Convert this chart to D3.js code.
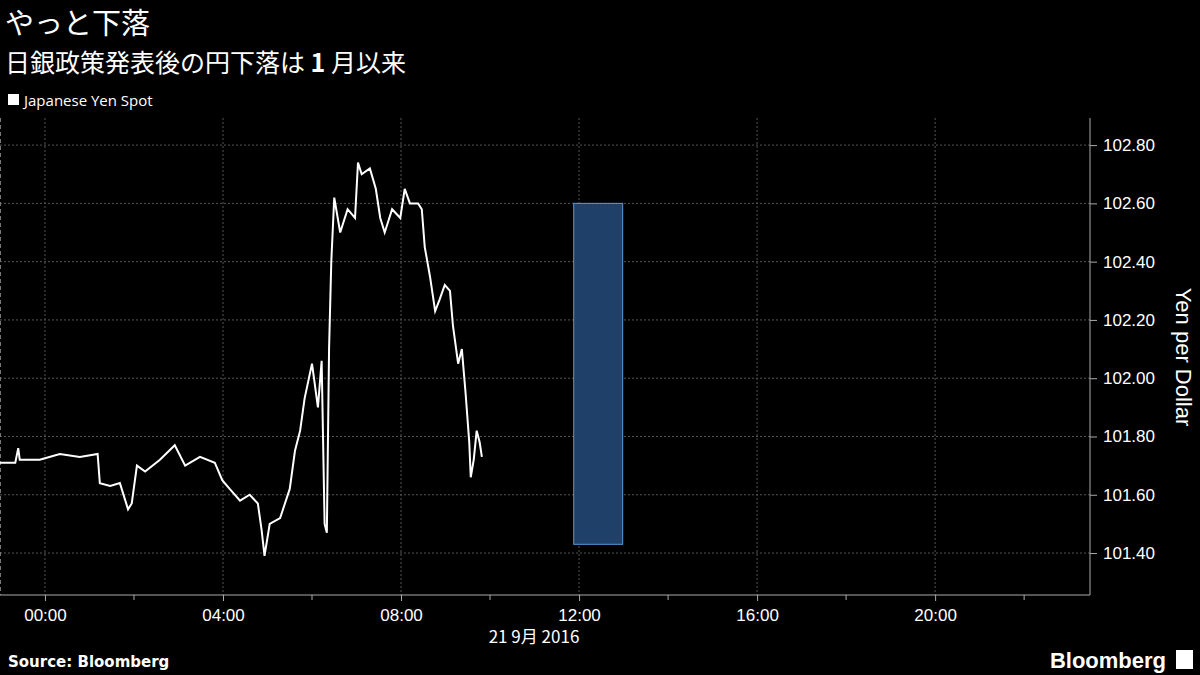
<!doctype html>
<html lang="ja">
<head>
<meta charset="utf-8">
<style>
body { margin:0; background:#000; }
svg { display:block; font-family:"Noto Sans CJK JP","Liberation Sans",Arial,sans-serif; }
</style>
</head>
<body>
<script src="https://cdn.jsdelivr.net/npm/d3@7"></script>
<svg id="chart" width="1200" height="675"></svg>
<script>
// minutes from 00:00, 21 Sep 2016 (negative = previous evening)
var minutes = [-61,-40,-36,-34,-7,20,47,71,74,88,101,112,117,124,135,155,175,189,209,229,239,249,263,276,287,292,296,303,317,330,337,344,350,360,368,373,377,380,383,386,390,398,408,418,422,427,438,446,452,458,468,479,485,492,503,508,512,519,526,532,539,546,550,557,562,567,572,574,578,582,586,589];
var yen = [101.71,101.71,101.76,101.72,101.72,101.74,101.73,101.74,101.64,101.63,101.64,101.55,101.57,101.70,101.68,101.72,101.77,101.70,101.73,101.71,101.65,101.62,101.58,101.60,101.57,101.48,101.39,101.50,101.52,101.62,101.75,101.82,101.93,102.05,101.90,102.06,101.50,101.47,102.10,102.40,102.62,102.50,102.58,102.55,102.74,102.70,102.72,102.65,102.55,102.50,102.58,102.55,102.65,102.60,102.60,102.58,102.45,102.35,102.23,102.27,102.32,102.30,102.18,102.05,102.10,101.95,101.78,101.66,101.72,101.82,101.78,101.73];
var yTicks = [101.4,101.6,101.8,102.0,102.2,102.4,102.6,102.8];
var xTickHours = [0,4,8,12,16,20];
var xMinorHours = [2,6,10,14,18,22];
var bandHours = [11.88, 12.98];
var bandValues = [101.43, 102.60];

var svg = d3.select("#chart");
var L = 0, R = 1090, T = 118, B = 595;
var x = d3.scaleLinear().domain([-1.01, 23.48]).range([L, R]);
var y = d3.scaleLinear().domain([101.256, 102.893]).range([B, T]);

// grid
svg.selectAll(".hg").data(yTicks).enter().append("line")
  .attr("x1", L).attr("x2", R).attr("y1", d => y(d)).attr("y2", d => y(d))
  .attr("stroke", "#555").attr("stroke-dasharray", "2,2");
svg.selectAll(".vg").data(xTickHours).enter().append("line")
  .attr("x1", d => x(d)).attr("x2", d => x(d)).attr("y1", T).attr("y2", B)
  .attr("stroke", "#555").attr("stroke-dasharray", "2,2");
svg.append("line").attr("x1", 0.5).attr("x2", 0.5).attr("y1", T).attr("y2", B)
  .attr("stroke", "#777").attr("stroke-dasharray", "4,3");

// band
svg.append("rect")
  .attr("x", x(bandHours[0])).attr("width", x(bandHours[1]) - x(bandHours[0]))
  .attr("y", y(bandValues[1])).attr("height", y(bandValues[0]) - y(bandValues[1]))
  .attr("fill", "#1f4068").attr("stroke", "#5a9ad8").attr("stroke-width", 1);

// line
var line = d3.line().x((d, i) => x(minutes[i] / 60)).y(d => y(d));
svg.append("path").datum(yen).attr("d", line)
  .attr("fill", "none").attr("stroke", "#fff").attr("stroke-width", 2);

// axes
var yAxis = svg.append("g").attr("transform", "translate(" + R + ",0)")
  .call(d3.axisRight(y).tickValues(yTicks).tickFormat(d3.format(".2f")).tickSize(7).tickPadding(6));
yAxis.select(".domain").attr("stroke", "#aaa").attr("d", "M0," + T + "V" + B);
yAxis.selectAll(".tick line").attr("stroke", "#aaa");
yAxis.selectAll("text").attr("fill", "#fff").attr("font-size", 17)
  .attr("font-family", "Liberation Sans, Arial, sans-serif");

var xAxis = svg.append("g").attr("transform", "translate(0," + B + ")")
  .call(d3.axisBottom(x).tickValues(xTickHours).tickSize(6).tickPadding(8)
    .tickFormat(d => d3.format("02d")(d) + ":00"));
xAxis.select(".domain").attr("stroke", "#aaa").attr("d", "M" + L + ",0H" + R);
xAxis.selectAll(".tick line").attr("stroke", "#aaa");
xAxis.selectAll("text").attr("fill", "#fff").attr("font-size", 17)
  .attr("font-family", "Liberation Sans, Arial, sans-serif");
svg.selectAll(".mt").data(xMinorHours).enter().append("line")
  .attr("x1", d => x(d)).attr("x2", d => x(d)).attr("y1", B).attr("y2", B + 5)
  .attr("stroke", "#aaa");

svg.append("text").attr("x", 534).attr("y", 643).attr("text-anchor", "middle")
  .attr("fill", "#fff").attr("font-size", 17).text("21 9月 2016");

// titles
svg.append("text").attr("x", 5).attr("y", 34).attr("fill", "#fff").attr("font-size", 29).text("やっと下落");
var sub = svg.append("text").attr("x", 5).attr("y", 72).attr("fill", "#fff").attr("font-size", 25);
sub.append("tspan").text("日銀政策発表後の円下落は ");
sub.append("tspan").attr("font-weight", "bold").text("1");
sub.append("tspan").text(" 月以来");
svg.append("rect").attr("x", 8).attr("y", 94).attr("width", 11).attr("height", 11).attr("fill", "#fff");
svg.append("text").attr("x", 24).attr("y", 106).attr("fill", "#fff").attr("font-size", 15)
  .attr("font-family", "Open Sans, sans-serif").text("Japanese Yen Spot");

svg.append("text").attr("transform", "translate(1176,357) rotate(90)").attr("text-anchor", "middle")
  .attr("fill", "#fff").attr("font-size", 22).attr("font-family", "Liberation Sans, Arial, sans-serif")
  .text("Yen per Dollar");

svg.append("text").attr("x", 8).attr("y", 667).attr("fill", "#fff").attr("font-size", 15)
  .attr("font-weight", "bold").attr("font-family", "DejaVu Sans, sans-serif").text("Source: Bloomberg");
svg.append("text").attr("x", 1166).attr("y", 668).attr("text-anchor", "end").attr("fill", "#fff")
  .attr("font-size", 22).attr("font-weight", "bold").attr("font-family", "Liberation Sans, Arial, sans-serif")
  .text("Bloomberg");
svg.append("rect").attr("x", 1176).attr("y", 650).attr("width", 17).attr("height", 19).attr("fill", "#fff");
</script>
</body>
</html>
